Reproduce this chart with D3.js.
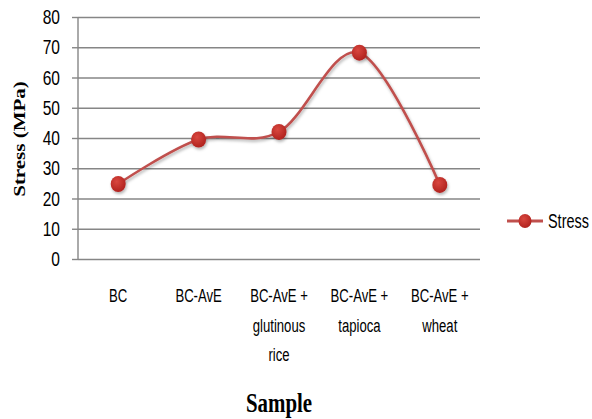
<!DOCTYPE html>
<html>
<head>
<meta charset="utf-8">
<script src="https://cdn.jsdelivr.net/npm/d3@7/dist/d3.min.js"></script>
<style>
  html, body { margin: 0; padding: 0; background: #fff; }
  svg { display: block; }
</style>
</head>
<body>
<svg id="chart" width="592" height="419"></svg>
<script>
// Tensile stress of each bacterial cellulose sample
const categories = [
  ["BC"],
  ["BC-AvE"],
  ["BC-AvE +", "glutinous", "rice"],
  ["BC-AvE +", "tapioca"],
  ["BC-AvE +", "wheat"]
];
const stress = [24.8, 39.5, 42.0, 68.2, 24.5];
const yTicks = [0, 10, 20, 30, 40, 50, 60, 70, 80];
const seriesName = "Stress";
const xTitle = "Sample";
const yTitle = "Stress (MPa)";

const svg = d3.select("#chart");
const plot = { left: 78, right: 480, top: 17, bottom: 259 };
const red = "#c0504d";
const grid = "#868686";
const labelFont = "'Liberation Sans', Arial, sans-serif";
const titleFont = "'Liberation Serif', 'Times New Roman', serif";

const x = d3.scaleBand()
  .domain(d3.range(categories.length))
  .range([plot.left, plot.right]);
const y = d3.scaleLinear().domain([0, 80]).range([plot.bottom, plot.top]);

// Shadow under the line and markers
const defs = svg.append("defs");
const sh = defs.append("filter").attr("id", "shadow")
  .attr("x", "-50%").attr("y", "-50%").attr("width", "200%").attr("height", "200%");
sh.append("feDropShadow").attr("dx", 1).attr("dy", 2).attr("stdDeviation", 1.5)
  .attr("flood-color", "#000").attr("flood-opacity", 0.3);
const grad = defs.append("radialGradient").attr("id", "dot")
  .attr("cx", "40%").attr("cy", "35%").attr("r", "65%");
grad.append("stop").attr("offset", "0%").attr("stop-color", "#d9473f");
grad.append("stop").attr("offset", "100%").attr("stop-color", "#b1231f");

// Gridlines with tick stubs
svg.append("g")
  .attr("transform", `translate(${plot.left},0)`)
  .call(d3.axisLeft(y).tickValues(yTicks).tickSize(-(plot.right - plot.left)).tickFormat(""))
  .call(g => g.select(".domain").remove())
  .call(g => g.selectAll(".tick line").attr("stroke", grid).attr("stroke-width", 1.4));
svg.append("g")
  .attr("transform", `translate(${plot.left},0)`)
  .call(d3.axisLeft(y).tickValues(yTicks).tickSize(6).tickFormat(""))
  .call(g => g.select(".domain").remove())
  .call(g => g.selectAll(".tick line").attr("stroke", grid).attr("stroke-width", 1.4));

// Vertical axis line
svg.append("line")
  .attr("x1", plot.left).attr("x2", plot.left)
  .attr("y1", y(80)).attr("y2", y(0))
  .attr("stroke", grid).attr("stroke-width", 1.4);

// Y tick labels
svg.append("g").selectAll("text").data(yTicks).join("text")
  .attr("transform", d => `translate(60,${y(d) + 7}) scale(0.82,1.05)`)
  .attr("text-anchor", "end")
  .attr("font-family", labelFont).attr("font-size", 19)
  .attr("fill", "#000")
  .text(d => d);

// Category labels
const cat = svg.append("g").selectAll("text").data(categories).join("text")
  .attr("transform", (d, i) => `translate(${x(i) + x.bandwidth() / 2},302) scale(0.82,1.1)`)
  .attr("text-anchor", "middle")
  .attr("font-family", labelFont).attr("font-size", 16)
  .attr("fill", "#000");
cat.selectAll("tspan").data(d => d).join("tspan")
  .attr("x", 0).attr("y", (d, j) => j * 27)
  .text(d => d);

// Series line
const pts = stress.map((v, i) => [x(i) + x.bandwidth() / 2, y(v)]);
svg.append("path")
  .datum(pts)
  .attr("d", d3.line().curve(d3.curveCatmullRom.alpha(0)))
  .attr("fill", "none").attr("stroke", red).attr("stroke-width", 2.6)
  .attr("filter", "url(#shadow)");

// Markers
svg.append("g").selectAll("ellipse").data(pts).join("ellipse")
  .attr("cx", d => d[0]).attr("cy", d => d[1])
  .attr("rx", 7.5).attr("ry", 8)
  .attr("fill", "url(#dot)")
  .attr("filter", "url(#shadow)");

// Legend
const lg = svg.append("g").attr("transform", "translate(507,221)");
lg.append("line").attr("x1", 0).attr("x2", 36).attr("stroke", red).attr("stroke-width", 3);
lg.append("ellipse").attr("cx", 18).attr("cy", 0).attr("rx", 6.5).attr("ry", 7)
  .attr("fill", "url(#dot)");
lg.append("text")
  .attr("transform", "translate(41,7) scale(0.78,1.05)")
  .attr("font-family", labelFont).attr("font-size", 18.5)
  .attr("fill", "#000")
  .text(seriesName);

// Axis titles
svg.append("text")
  .attr("transform", `translate(${(plot.left + plot.right) / 2},412) scale(0.95,1.2)`)
  .attr("text-anchor", "middle")
  .attr("font-family", titleFont).attr("font-weight", "bold").attr("font-size", 22)
  .attr("fill", "#000")
  .text(xTitle);
svg.append("text")
  .attr("transform", "translate(25,139) rotate(-90) scale(1.4,1.05)")
  .attr("text-anchor", "middle")
  .attr("font-family", titleFont).attr("font-weight", "bold").attr("font-size", 15)
  .attr("fill", "#000")
  .text(yTitle);
</script>
</body>
</html>
